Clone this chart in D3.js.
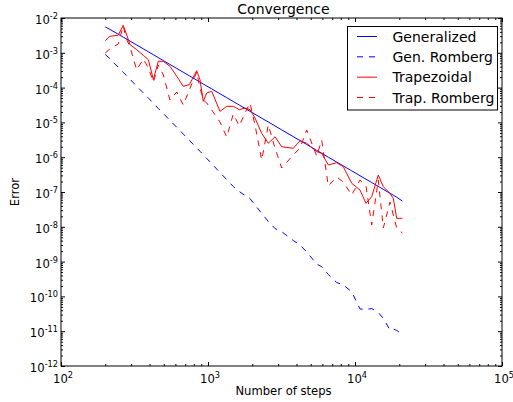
<!DOCTYPE html>
<html>
<head>
<meta charset="utf-8">
<script src="https://cdn.jsdelivr.net/npm/d3@7"></script>
<style>
  body { margin: 0; background: #fff; }
  text { font-family: "DejaVu Sans", sans-serif; fill: #000; }
</style>
</head>
<body>
<svg id="chart" width="513" height="402"></svg>
<script>
// number of steps (shared by all four series)
var steps = [200, 215, 245, 265, 277, 295, 327, 363, 393, 425, 459, 497, 551, 613, 679, 746, 838, 882, 929, 980,
  1060, 1206, 1341, 1486, 1633, 1785, 1931, 2088, 2319, 2572, 2857, 3171, 3804, 4226, 4692, 5489, 5935, 6583, 7508, 8325,
  9497, 10815, 11881, 12991, 14403, 15577, 17302, 18219, 19216, 21000];

var generalized = [5.51e-3, 4.72e-3, 3.42e-3, 2.82e-3, 2.54e-3, 2.17e-3, 1.68e-3, 1.30e-3, 1.07e-3, 8.81e-4,
  7.26e-4, 5.98e-4, 4.61e-4, 3.56e-4, 2.76e-4, 2.19e-4, 1.64e-4, 1.44e-4, 1.27e-4, 1.11e-4,
  9.18e-5, 6.65e-5, 5.14e-5, 3.98e-5, 3.15e-5, 2.53e-5, 2.08e-5, 1.72e-5, 1.32e-5, 1.03e-5,
  7.91e-6, 6.10e-6, 3.90e-6, 3.01e-6, 2.32e-6, 1.57e-6, 1.30e-6, 1.00e-6, 7.25e-7, 5.61e-7,
  4.05e-7, 2.94e-7, 2.33e-7, 1.87e-7, 1.45e-7, 1.19e-7, 9.19e-8, 8.09e-8, 7.10e-8, 5.50e-8];

var genRomberg = [8.93e-4, 6.81e-4, 3.86e-4, 2.75e-4, 2.29e-4, 1.74e-4, 1.10e-4, 7.05e-5, 4.99e-5, 3.56e-5,
  2.52e-5, 1.80e-5, 1.14e-5, 7.23e-6, 4.61e-6, 3.06e-6, 1.85e-6, 1.48e-6, 1.17e-6, 9.24e-7,
  6.50e-7, 3.63e-7, 2.27e-7, 1.44e-7, 1.03e-7, 7.93e-8, 6.50e-8, 4.23e-8, 2.44e-8, 1.42e-8,
  8.93e-9, 7.23e-9, 4.04e-9, 3.00e-9, 1.89e-9, 8.53e-10, 7.13e-10, 4.26e-10, 2.51e-10, 2.13e-10,
  1.36e-10, 4.35e-11, 4.21e-11, 4.49e-11, 3.44e-11, 2.32e-11, 1.08e-11, 1.16e-11, 1.05e-11, 8.04e-12];

var trapezoidal = [2.23e-3, 2.98e-3, 3.18e-3, 6.17e-3, 3.71e-3, 1.71e-3, 1.23e-3, 8.48e-4, 6.33e-4, 1.69e-4,
  5.70e-4, 5.70e-4, 4.09e-4, 2.11e-4, 1.09e-4, 1.21e-4, 3.06e-4, 1.69e-4, 4.04e-5, 7.00e-5,
  7.83e-5, 2.08e-5, 2.90e-5, 2.90e-5, 2.32e-5, 2.59e-5, 2.32e-5, 1.34e-5, 4.86e-6, 2.51e-6,
  3.88e-6, 2.00e-6, 1.80e-6, 2.98e-6, 2.51e-6, 1.44e-6, 1.29e-6, 5.97e-7, 6.95e-7, 5.33e-7,
  1.78e-7, 1.14e-7, 4.73e-8, 7.33e-8, 3.08e-7, 1.42e-7, 9.18e-8, 6.59e-8, 1.75e-8, 1.75e-8];

var trapRomberg = [9.87e-4, 1.29e-3, 1.79e-3, 5.89e-3, 2.66e-3, 1.47e-3, 3.21e-4, 6.64e-4, 3.66e-4, 1.45e-4,
  4.46e-4, 2.30e-4, 4.40e-5, 7.48e-5, 3.16e-5, 8.53e-5, 2.81e-4, 9.75e-5, 4.40e-5, 3.61e-5,
  2.27e-5, 1.03e-5, 3.80e-6, 1.74e-5, 7.88e-6, 1.86e-5, 3.61e-5, 8.41e-6, 8.31e-7, 8.41e-6,
  1.84e-6, 4.90e-7, 1.16e-6, 1.84e-6, 6.05e-6, 1.08e-6, 3.12e-6, 1.49e-7, 2.70e-7, 1.94e-7,
  8.20e-8, 2.21e-7, 1.49e-7, 1.13e-8, 2.21e-7, 9.24e-9, 5.16e-8, 2.18e-8, 9.24e-9, 6.64e-9];

var xExponents = [2, 3, 4, 5];
var yExponents = [-12, -11, -10, -9, -8, -7, -6, -5, -4, -3, -2];
var seriesNames = ["Generalized", "Gen. Romberg", "Trapezoidal", "Trap. Romberg"];

// plot box (avoid the name "top", it clashes with window.top)
var plotL = 61, plotR = 502, plotT = 18, plotB = 366;
var svg = d3.select("#chart");

var x = d3.scaleLog().domain([1e2, 1e5]).range([plotL, plotR]);
var y = d3.scaleLog().domain([1e-12, 1e-2]).range([plotB, plotT]);

// minor tick values (2..9 x 10^k)
function minors(lo, hi) {
  var out = [];
  for (var e = lo; e < hi; e++) {
    for (var m = 2; m <= 9; m++) out.push(m * Math.pow(10, e));
  }
  return out;
}
var xMajor = xExponents.map(function (e) { return Math.pow(10, e); });
var yMajor = yExponents.map(function (e) { return Math.pow(10, e); });

var series = [
  { values: generalized, color: "#0000ff", dash: null },
  { values: genRomberg, color: "#0000ff", dash: "6,6" },
  { values: trapezoidal, color: "#ff0000", dash: null },
  { values: trapRomberg, color: "#ff0000", dash: "6,6" }
];

var line = d3.line()
  .x(function (d) { return x(d[0]); })
  .y(function (d) { return y(d[1]); });

series.forEach(function (s) {
  svg.append("path")
    .datum(steps.map(function (n, i) { return [n, s.values[i]]; }))
    .attr("d", line)
    .attr("fill", "none")
    .attr("stroke", s.color)
    .attr("stroke-width", 1)
    .attr("stroke-dasharray", s.dash);
});

// axes: ticks inward on all four sides
function addAxis(axis, tx, ty) {
  var g = svg.append("g").attr("transform", "translate(" + tx + "," + ty + ")").call(axis);
  g.select(".domain").remove();
  g.selectAll("text").remove();
  g.selectAll("line").attr("stroke", "#000");
}
addAxis(d3.axisBottom(x).tickValues(xMajor).tickSize(-4), 0, plotB);
addAxis(d3.axisBottom(x).tickValues(minors(2, 5)).tickSize(-2), 0, plotB);
addAxis(d3.axisTop(x).tickValues(xMajor).tickSize(-4), 0, plotT);
addAxis(d3.axisTop(x).tickValues(minors(2, 5)).tickSize(-2), 0, plotT);
addAxis(d3.axisLeft(y).tickValues(yMajor).tickSize(-4), plotL, 0);
addAxis(d3.axisLeft(y).tickValues(minors(-12, -2)).tickSize(-2), plotL, 0);
addAxis(d3.axisRight(y).tickValues(yMajor).tickSize(-4), plotR, 0);
addAxis(d3.axisRight(y).tickValues(minors(-12, -2)).tickSize(-2), plotR, 0);

// frame
svg.append("rect")
  .attr("x", plotL).attr("y", plotT)
  .attr("width", plotR - plotL).attr("height", plotB - plotT)
  .attr("fill", "none").attr("stroke", "#000").attr("stroke-width", 1);

// tick labels with superscripts
function powLabel(sel, e) {
  sel.append("tspan").text("10");
  sel.append("tspan").attr("dy", -5).attr("font-size", "8.2px").text(e);
}
xExponents.forEach(function (e) {
  var t = svg.append("text")
    .attr("x", x(Math.pow(10, e)) + 2)
    .attr("y", 383)
    .attr("text-anchor", "middle")
    .attr("font-size", "11.6px");
  powLabel(t, e);
});
yExponents.forEach(function (e) {
  var t = svg.append("text")
    .attr("x", 58)
    .attr("y", y(Math.pow(10, e)) + 6)
    .attr("text-anchor", "end")
    .attr("font-size", "11.6px");
  powLabel(t, e);
});

// titles
svg.append("text").attr("x", (plotL + plotR) / 2 + 2).attr("y", 13.5)
  .attr("text-anchor", "middle").attr("font-size", "14px").text("Convergence");
svg.append("text").attr("x", (plotL + plotR) / 2 + 2).attr("y", 395)
  .attr("text-anchor", "middle").attr("font-size", "11.6px").text("Number of steps");
svg.append("text")
  .attr("transform", "translate(19," + ((plotT + plotB) / 2) + ") rotate(-90)")
  .attr("text-anchor", "middle").attr("font-size", "11.6px").text("Error");

// legend
var legend = svg.append("g");
legend.append("rect")
  .attr("x", 347.5).attr("y", 26.5).attr("width", 150).attr("height", 83.5)
  .attr("fill", "#fff").attr("stroke", "#000").attr("stroke-width", 1);
var rowY = d3.scaleLinear().domain([0, 3]).range([36.5, 97.5]);
series.forEach(function (s, i) {
  legend.append("line")
    .attr("x1", 357).attr("x2", 377)
    .attr("y1", rowY(i)).attr("y2", rowY(i))
    .attr("stroke", s.color).attr("stroke-width", 1)
    .attr("stroke-dasharray", s.dash);
  legend.append("text")
    .attr("x", 392.5).attr("y", rowY(i) + 5)
    .attr("font-size", "14px")
    .text(seriesNames[i]);
});
</script>
</body>
</html>
